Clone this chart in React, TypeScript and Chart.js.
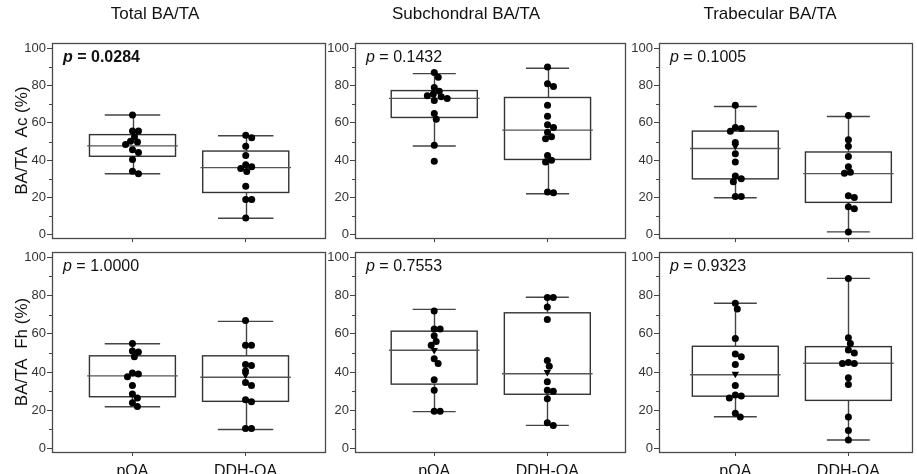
import React, { useEffect, useRef } from "react";
import { Chart, registerables } from "chart.js";

Chart.register(...registerables);

const FONT = "'Liberation Sans', Arial, Helvetica, sans-serif";

// ---------- data ----------
const categories = ["pOA", "DDH-OA"];
const columnTitles = ["Total BA/TA", "Subchondral BA/TA", "Trabecular BA/TA"];
const rowTitles = ["BA/TA  Ac (%)", "BA/TA  Fh (%)"];
const pValues = ["0.0284", "0.1432", "0.1005", "1.0000", "0.7553", "0.9323"];
const pSignificant = [true, false, false, false, false, false];
const yTickValues = [0, 20, 40, 60, 80, 100];
const yMinorTickValues = [10, 30, 50, 70, 90];

// individual values (%)
const totalAcPOA = [64.2, 55.6, 55.6, 52.6, 50.2, 49.8, 48.4, 45.6, 44.1, 40.4, 34.1, 32.7];
const totalAcDDH = [53.3, 52, 47.5, 42.5, 37.5, 36.5, 35.5, 34, 26, 19, 19, 9];
const subAcPOA = [87, 84.5, 79, 77, 75.5, 74.5, 74, 73, 72, 65, 62, 48, 39.5];
const subAcDDH = [90, 81, 79.5, 69.5, 63.5, 59, 57.5, 55, 52.5, 51.5, 42.5, 40, 39, 23, 22.5];
const trabAcPOA = [69.5, 57.5, 57, 55.5, 49.5, 43.5, 39, 31.5, 30, 28.5, 20.5, 20.5];
const trabAcDDH = [64, 51, 47.5, 42, 36.5, 33.5, 33, 21, 20, 15, 14, 1.5];
const totalFhPOA = [55, 51, 50.5, 48, 39.5, 39, 37.5, 33, 28.5, 26.5, 24, 22];
const totalFhDDH = [67, 54, 54, 44, 43.5, 40.5, 34.5, 33, 25.5, 24.5, 10.5, 10.5];
const subFhPOA = [72, 62.5, 62.5, 59, 56, 54, 47, 44.5, 36, 30.5, 19.5, 19.5];
const subFhDDH = [79, 79, 74, 67.5, 46, 43, 35, 30.5, 30, 26, 13.5, 12];
const trabFhPOA = [76, 73, 57.5, 49.5, 48, 44, 33, 28, 27.5, 26.5, 18.5, 16.5];
const trabFhDDH = [89, 58, 55, 51.5, 50, 45, 44.5, 44.5, 37, 33.5, 16.5, 9.5, 4.5];

// box statistics: [lower whisker, Q1, median, Q3, upper whisker]
const totalAcPOABox = [32.7, 42.1, 47.7, 53.7, 64.2];
const totalAcDDHBox = [8.9, 22.7, 36, 44.9, 53.1];
const subAcPOABox = [47.6, 62.9, 73.1, 77.3, 86.4];
const subAcDDHBox = [22, 40.4, 56.1, 73.6, 89.3];
const trabAcPOABox = [19.9, 30, 46.3, 55.6, 68.8];
const trabAcDDHBox = [1.6, 17.4, 32.8, 44.4, 63.4];
const totalFhPOABox = [21.9, 27.1, 38, 48.5, 54.8];
const totalFhDDHBox = [10, 24.7, 37.3, 48.5, 66.5];
const subFhPOABox = [19.3, 33.7, 51.4, 61.4, 72.8];
const subFhDDHBox = [12.1, 28.4, 39.1, 71, 79.1];
const trabFhPOABox = [16.6, 27.4, 38.6, 53.5, 76];
const trabFhDDHBox = [4.5, 25.2, 44.6, 53.3, 89];

// means (shown as ▼ where visible)
const meanPOA: (number | null)[] = [null, null, 47.5, null, 51.5, 39];
const meanDDH: (number | null)[] = [null, null, null, 38.5, 40, null];

const panelPoints = [
  [totalAcPOA, totalAcDDH],
  [subAcPOA, subAcDDH],
  [trabAcPOA, trabAcDDH],
  [totalFhPOA, totalFhDDH],
  [subFhPOA, subFhDDH],
  [trabFhPOA, trabFhDDH],
];
const panelBoxes = [
  [totalAcPOABox, totalAcDDHBox],
  [subAcPOABox, subAcDDHBox],
  [trabAcPOABox, trabAcDDHBox],
  [totalFhPOABox, totalFhDDHBox],
  [subFhPOABox, subFhDDHBox],
  [trabFhPOABox, trabFhDDHBox],
];

// ---------- layout ----------
const PAD_R = 2;
const COLS = [
  { plotL: 52, plotR: 327, yW: 52, xMin: -0.711, xMax: 1.7, capHalf: 0.245, titleX: 155 },
  { plotL: 355, plotR: 627, yW: 30, xMin: -0.7, xMax: 1.684, capHalf: 0.19, titleX: 466 },
  { plotL: 659, plotR: 914, yW: 30, xMin: -0.675, xMax: 1.56, capHalf: 0.19, titleX: 770 },
];
const ROWS = [
  { canvasT: 0, padTop: 43, plotB: 242, xH: 5 },
  { canvasT: 242, padTop: 10, plotB: 452, xH: 22 },
];
const BOX_HALF = 0.38;
const MEDIAN_HALF = 0.4;
const DOT_R = 3.5;

function swarmOffsets(values: number[]): number[] {
  const PX_Y = 1.9;
  const PX_X = 114;
  const D = 6;
  const order = values.map((_, i) => i).sort((a, b) => values[b] - values[a]);
  const placed: { x: number; y: number }[] = [];
  const off = new Array(values.length).fill(0);
  for (const i of order) {
    const y = values[i] * PX_Y;
    let best = 0;
    for (let k = 0; k < 60; k++) {
      const cand = k === 0 ? 0 : (k % 2 ? 1 : -1) * Math.ceil(k / 2);
      if (placed.every((p) => Math.hypot(p.x - cand, p.y - y) >= D)) {
        best = cand;
        break;
      }
    }
    placed.push({ x: best, y });
    off[i] = best / PX_X;
  }
  return off;
}

function Panel({ index }: { index: number }) {
  const ref = useRef<HTMLCanvasElement | null>(null);
  const row = Math.floor(index / 3);
  const col = index % 3;
  const C = COLS[col];
  const R = ROWS[row];
  const canvasL = C.plotL - C.yW;
  const canvasW = C.plotR + PAD_R - canvasL;
  const canvasH = R.plotB + R.xH - R.canvasT;

  useEffect(() => {
    if (!ref.current) return;
    const groups = panelPoints[index];
    const boxes = panelBoxes[index];
    const pointSets = groups.map((vals, g) => {
      const off = swarmOffsets(vals);
      return vals.map((v, k) => ({ x: g + off[k], y: v }));
    });
    const means: { x: number; y: number }[] = [];
    if (meanPOA[index] != null) means.push({ x: 0, y: meanPOA[index] as number });
    if (meanDDH[index] != null) means.push({ x: 1, y: meanDDH[index] as number });

    const boxPlugin = {
      id: "boxes" + index,
      beforeDatasetsDraw(chart: any) {
        const { ctx } = chart;
        const x = chart.scales.x;
        const y = chart.scales.y;
        ctx.save();
        boxes.forEach((b: number[], g: number) => {
          const [lo, q1, med, q3, hi] = b;
          const xc = Math.round(x.getPixelForValue(g)) + 0.5;
          // whiskers
          ctx.strokeStyle = "#444";
          ctx.lineWidth = 1.4;
          ctx.beginPath();
          ctx.moveTo(xc, y.getPixelForValue(hi));
          ctx.lineTo(xc, y.getPixelForValue(q3));
          ctx.moveTo(xc, y.getPixelForValue(q1));
          ctx.lineTo(xc, y.getPixelForValue(lo));
          ctx.stroke();
          ctx.beginPath();
          ctx.moveTo(x.getPixelForValue(g - C.capHalf), y.getPixelForValue(hi));
          ctx.lineTo(x.getPixelForValue(g + C.capHalf), y.getPixelForValue(hi));
          ctx.moveTo(x.getPixelForValue(g - C.capHalf), y.getPixelForValue(lo));
          ctx.lineTo(x.getPixelForValue(g + C.capHalf), y.getPixelForValue(lo));
          ctx.stroke();
          // box
          const xl = x.getPixelForValue(g - BOX_HALF);
          const xr = x.getPixelForValue(g + BOX_HALF);
          ctx.strokeStyle = "#333";
          ctx.lineWidth = 1.4;
          ctx.strokeRect(xl, y.getPixelForValue(q3), xr - xl, y.getPixelForValue(q1) - y.getPixelForValue(q3));
          // median
          ctx.strokeStyle = "#555";
          ctx.beginPath();
          ctx.moveTo(x.getPixelForValue(g - MEDIAN_HALF), y.getPixelForValue(med));
          ctx.lineTo(x.getPixelForValue(g + MEDIAN_HALF), y.getPixelForValue(med));
          ctx.stroke();
        });
        ctx.restore();
      },
      afterDraw(chart: any) {
        const { ctx, chartArea } = chart;
        const y = chart.scales.y;
        ctx.save();
        // frame
        ctx.strokeStyle = "#4a4a4a";
        ctx.lineWidth = 1.3;
        ctx.strokeRect(
          Math.round(chartArea.left) + 0.5,
          Math.round(chartArea.top) + 0.5,
          Math.round(chartArea.right - chartArea.left),
          Math.round(chartArea.bottom - chartArea.top)
        );
        // minor ticks
        ctx.strokeStyle = "#444";
        ctx.lineWidth = 1;
        ctx.beginPath();
        yMinorTickValues.forEach((v) => {
          const py = Math.round(y.getPixelForValue(v)) + 0.5;
          ctx.moveTo(chartArea.left - 3, py);
          ctx.lineTo(chartArea.left, py);
        });
        ctx.stroke();
        // p value
        const sig = pSignificant[index];
        const px = chartArea.left + 11;
        const py = chartArea.top + 14.5;
        ctx.fillStyle = "#111";
        ctx.textBaseline = "middle";
        ctx.textAlign = "left";
        ctx.font = `italic ${sig ? "bold " : ""}16px ${FONT}`;
        ctx.fillText("p", px, py);
        const w = ctx.measureText("p").width;
        ctx.font = `${sig ? "bold " : ""}16px ${FONT}`;
        ctx.fillText(" = " + pValues[index], px + w, py);
        // column title
        if (row === 0) {
          ctx.font = `17px ${FONT}`;
          ctx.textAlign = "center";
          ctx.fillStyle = "#111";
          ctx.fillText(columnTitles[col], C.titleX - canvasL, 14);
        }
        ctx.restore();
      },
    };

    const chart = new Chart(ref.current, {
      type: "scatter",
      data: {
        datasets: [
          {
            data: pointSets[0],
            backgroundColor: "#000",
            borderColor: "#000",
            borderWidth: 0,
            pointRadius: DOT_R,
          },
          {
            data: pointSets[1],
            backgroundColor: "#000",
            borderColor: "#000",
            borderWidth: 0,
            pointRadius: DOT_R,
          },
          {
            data: means,
            backgroundColor: "#000",
            borderColor: "#000",
            borderWidth: 0,
            pointStyle: "triangle",
            rotation: 180,
            pointRadius: 4.3,
          },
        ],
      },
      options: {
        animation: false,
        responsive: false,
        maintainAspectRatio: false,
        devicePixelRatio: 1,
        events: [],
        layout: { padding: { top: R.padTop, left: 0, right: PAD_R, bottom: 0 } },
        plugins: {
          legend: { display: false },
          tooltip: { enabled: false },
          title: { display: false },
        },
        scales: {
          x: {
            type: "linear",
            min: C.xMin,
            max: C.xMax,
            afterBuildTicks: (s: any) => {
              s.ticks = [{ value: 0 }, { value: 1 }];
            },
            afterFit: (s: any) => {
              s.height = R.xH;
            },
            grid: { drawOnChartArea: false, drawTicks: true, tickLength: 4, color: "#444", tickColor: "#444" },
            border: { display: false },
            ticks: {
              autoSkip: false,
              maxRotation: 0,
              padding: 6,
              color: "#111",
              font: { family: FONT, size: 16 },
              callback: (v: any) => (row === 1 ? categories[Math.round(Number(v))] : ""),
            },
          },
          y: {
            type: "linear",
            min: -1.8,
            max: 102.8,
            afterBuildTicks: (s: any) => {
              s.ticks = yTickValues.map((v) => ({ value: v }));
            },
            afterFit: (s: any) => {
              s.width = C.yW;
            },
            grid: { drawOnChartArea: false, drawTicks: true, tickLength: 5, color: "#444", tickColor: "#444" },
            border: { display: false },
            ticks: {
              autoSkip: false,
              padding: 1,
              color: "#333",
              font: { family: FONT, size: 13 },
            },
            title: {
              display: col === 0,
              text: rowTitles[row],
              color: "#111",
              font: { family: FONT, size: 17 },
              padding: { top: 12, bottom: 0 },
            },
          },
        },
      } as any,
      plugins: [boxPlugin],
    });
    return () => chart.destroy();
  }, [index]);

  return (
    <canvas
      ref={ref}
      width={canvasW}
      height={canvasH}
      style={{ position: "absolute", left: canvasL, top: R.canvasT, width: canvasW, height: canvasH }}
    />
  );
}

export default function App() {
  return (
    <div
      style={{
        position: "fixed",
        left: 0,
        top: 0,
        width: 917,
        height: 474,
        background: "#fff",
        overflow: "hidden",
      }}
    >
      {[0, 1, 2, 3, 4, 5].map((i) => (
        <Panel key={i} index={i} />
      ))}
    </div>
  );
}
